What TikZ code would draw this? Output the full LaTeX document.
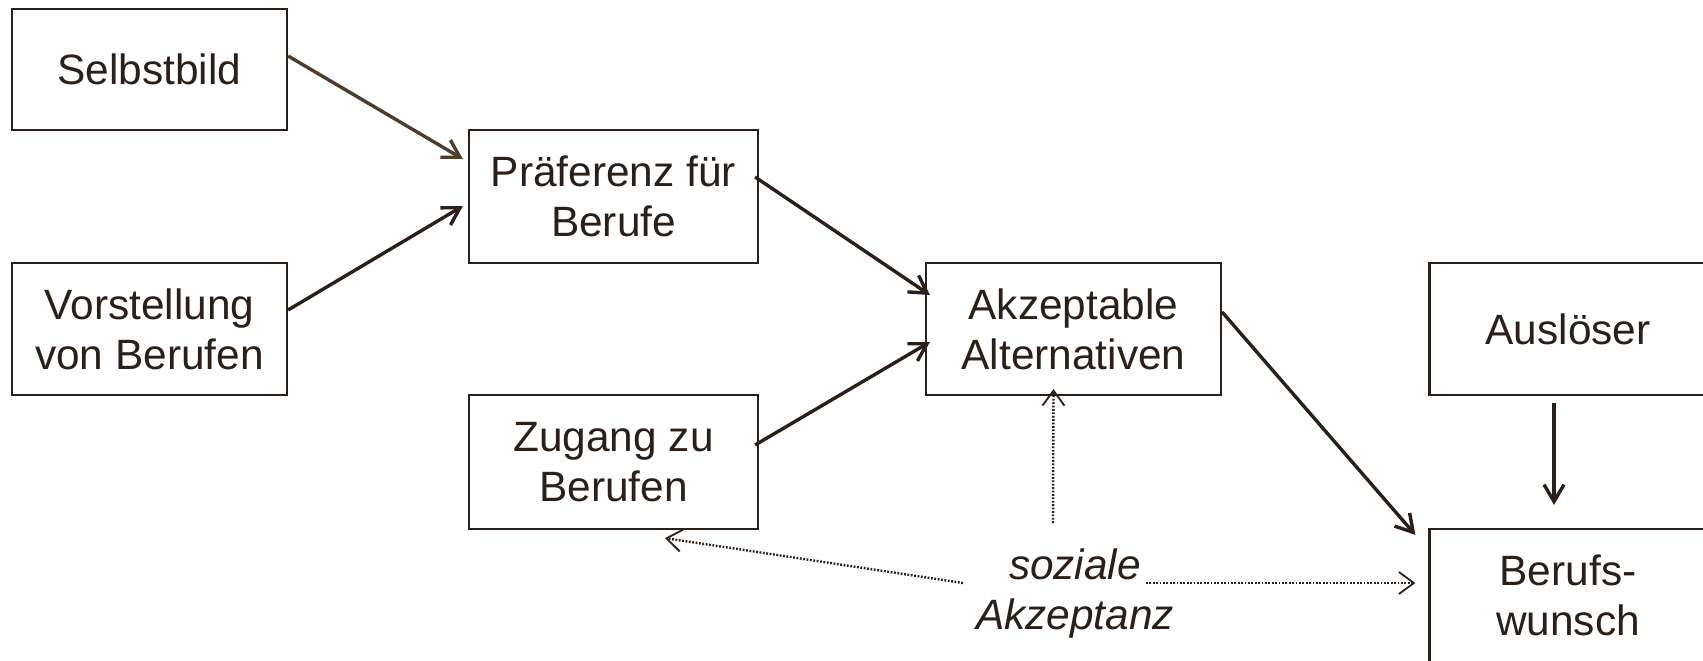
\documentclass[tikz,border=0pt]{standalone}
\usepackage{fontspec}
\setmainfont{Liberation Sans}
\usetikzlibrary{arrows.meta}
\definecolor{ink}{HTML}{2A2019}
\definecolor{brownink}{HTML}{4E3D2A}
\tikzset{
  box/.style={draw=ink, line width=2.2pt, minimum width=289pt, minimum height=133pt,
    inner sep=0pt, align=center, text=ink, font=\fontsize{42.4}{50}\selectfont},
  conn/.style={draw=ink, line width=3.4pt, -{Straight Barb[length=17pt,width=20pt]}},
  dotconn/.style={draw=ink, line width=2.4pt, dash pattern=on 1.8pt off 1.6pt,
    -{Straight Barb[length=15pt,width=22pt,line width=1.8pt]}},
  lbl/.style={inner sep=0pt, align=center, text=ink, font=\fontsize{42.4}{50}\selectfont\itshape}
}
\begin{document}
\begin{tikzpicture}[x=1pt,y=-1pt]
\useasboundingbox (0,0) rectangle (1703,661);
\clip (0,0) rectangle (1703,661);
\fill[white] (0,0) rectangle (1703,661);
\node[box, minimum width=275pt, minimum height=121pt] (sel) at (149.5,69.5) {Selbstbild};
\node[box, minimum width=275pt, minimum height=132pt] (vor) at (149.5,329) {Vorstellung\\von Berufen};
\node[box] (pre) at (613.5,196.5) {Präferenz für\\Berufe};
\node[box, minimum height=134pt] (zug) at (613.5,462) {Zugang zu\\Berufen};
\node[box, minimum width=295pt, minimum height=132pt] (akz) at (1073.5,329) {Akzeptable\\Alternativen};
\node[box, minimum height=132pt] (aus) at (1574,329) {Auslöser\hspace*{12pt}};
\node[box] (ber) at (1574,595.5) {Berufs-\hspace*{12pt}\\wunsch\hspace*{12pt}};
\node[lbl] (soz) at (1075,594) {soziale\\Akzeptanz};
\coordinate (s1) at (1053,523);
\coordinate (s2) at (963,583);
\coordinate (s3) at (1146,583);

\draw[conn, draw=brownink] ([yshift=13.5pt]sel.east) -- ([xshift=-5pt,yshift=37.5pt]pre.west);
\draw[conn] ([yshift=19pt]vor.east) -- ([xshift=-5pt,yshift=-9.5pt]pre.west);
\draw[conn] ([xshift=-4pt,yshift=19.5pt]pre.east) -- ([xshift=5pt,yshift=34pt]akz.west);
\draw[conn] ([xshift=-4pt,yshift=17pt]zug.east) -- ([xshift=5pt,yshift=-13pt]akz.west);
\draw[conn] ([yshift=17pt]akz.east) -- ([xshift=-13pt,yshift=-7pt]ber.north west);
\draw[conn] ([xshift=-20pt,yshift=-7pt]aus.south) -- ([xshift=-20pt,yshift=23pt]ber.north);

\draw[dotconn] (s1) -- ([xshift=-20pt,yshift=7pt]akz.south);
\draw[dotconn] (s2) -- ([xshift=51.5pt,yshift=-8pt]zug.south);
\draw[dotconn] (s3) -- ([xshift=-13pt,yshift=12.5pt]ber.west);
\end{tikzpicture}
\end{document}
